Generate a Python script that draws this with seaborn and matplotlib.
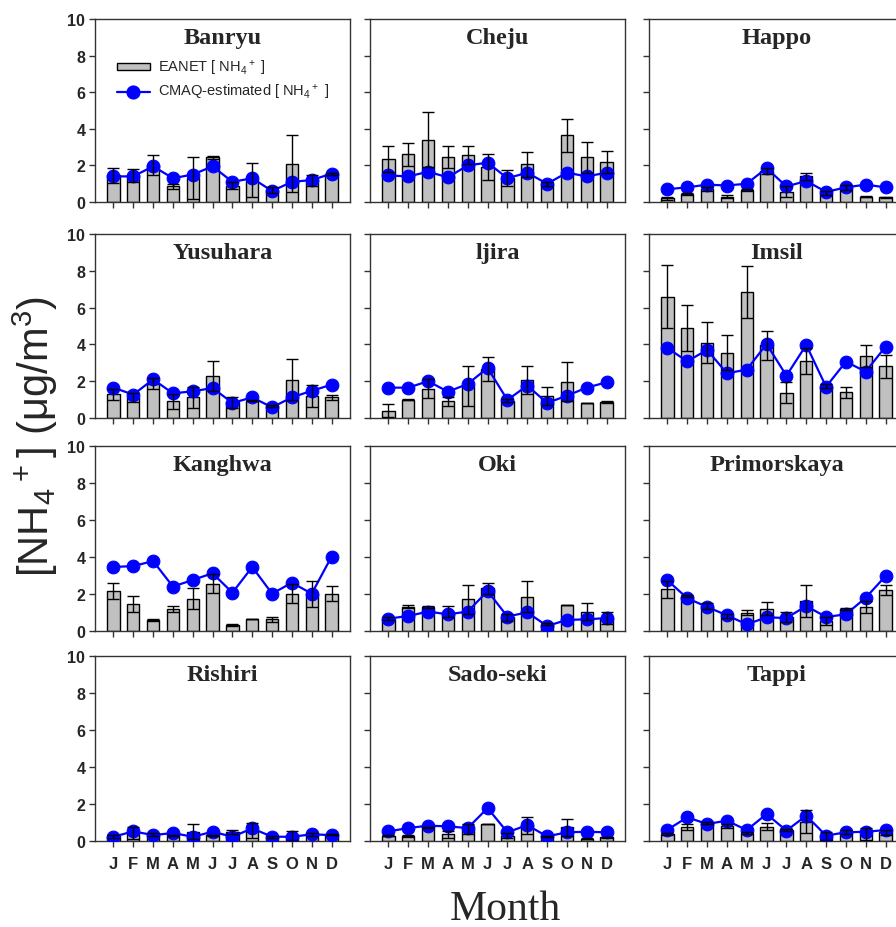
import numpy as np
import pandas as pd
import matplotlib
matplotlib.use("Agg")
import matplotlib.pyplot as plt
import seaborn as sns
from matplotlib.lines import Line2D
from matplotlib.patches import Patch

sns.set_style("ticks")
plt.rcParams["font.family"] = ["Liberation Sans", "DejaVu Sans"]
plt.rcParams["mathtext.default"] = "regular"

# Data
months = ["J", "F", "M", "A", "M", "J", "J", "A", "S", "O", "N", "D"]
sites = ["Banryu", "Cheju", "Happo", "Yusuhara", "Ijira", "Imsil",
         "Kanghwa", "Oki", "Primorskaya", "Rishiri", "Sado-seki", "Tappi"]
site_titles = ["Banryu", "Cheju", "Happo", "Yusuhara", "ljira", "Imsil",
               "Kanghwa", "Oki", "Primorskaya", "Rishiri", "Sado-seki", "Tappi"]

banryu_eanet = [1.45, 1.45, 2.0, 0.85, 1.3, 2.45, 0.9, 1.2, 0.65, 2.1, 1.2, 1.55]
banryu_err = [0.4, 0.35, 0.55, 0.15, 1.15, 0.08, 0.2, 0.95, 0.15, 1.55, 0.3, 0.05]
banryu_cmaq = [1.4, 1.4, 1.95, 1.3, 1.5, 1.95, 1.1, 1.3, 0.6, 1.1, 1.2, 1.55]

cheju_eanet = [2.35, 2.6, 3.4, 2.45, 2.55, 1.9, 1.3, 2.05, 1.0, 3.65, 2.45, 2.2]
cheju_err = [0.7, 0.65, 1.5, 0.6, 0.5, 0.7, 0.45, 0.7, 0.1, 0.9, 0.85, 0.6]
cheju_cmaq = [1.45, 1.4, 1.65, 1.35, 2.0, 2.15, 1.3, 1.6, 1.0, 1.6, 1.4, 1.6]

happo_eanet = [0.2, 0.45, 0.7, 0.3, 0.65, 1.7, 0.55, 1.4, 0.5, 0.8, 0.3, 0.25]
happo_err = [0.1, 0.05, 0.1, 0.1, 0.05, 0.15, 0.3, 0.2, 0.1, 0.15, 0.05, 0.05]
happo_cmaq = [0.7, 0.8, 0.95, 0.9, 1.0, 1.85, 0.85, 1.15, 0.55, 0.8, 0.95, 0.8]

yusuhara_eanet = [1.3, 1.12, 1.85, 0.9, 1.12, 2.27, 0.85, 0.95, 0.65, 2.08, 1.18, 1.12]
yusuhara_err = [0.3, 0.25, 0.3, 0.42, 0.55, 0.82, 0.3, 0.05, 0.05, 1.1, 0.6, 0.12]
yusuhara_cmaq = [1.65, 1.27, 2.1, 1.34, 1.45, 1.63, 0.82, 1.12, 0.58, 1.12, 1.48, 1.81]

ijira_eanet = [0.4, 1.0, 1.6, 0.9, 1.75, 2.65, 0.95, 2.05, 1.18, 1.97, 0.82, 0.86]
ijira_err = [0.35, 0.03, 0.5, 0.25, 1.1, 0.65, 0.1, 0.75, 0.5, 1.05, 0.02, 0.07]
ijira_cmaq = [1.65, 1.65, 2.0, 1.43, 1.85, 2.72, 0.98, 1.76, 0.82, 1.21, 1.65, 1.94]

imsil_eanet = [6.6, 4.9, 4.1, 3.55, 6.85, 3.95, 1.36, 3.1, 1.75, 1.4, 3.35, 2.8]
imsil_err = [1.73, 1.26, 1.1, 0.95, 1.4, 0.8, 0.57, 0.72, 0.1, 0.3, 0.6, 0.6]
imsil_cmaq = [3.8, 3.08, 3.7, 2.43, 2.63, 4.02, 2.3, 3.97, 1.7, 3.06, 2.52, 3.88]

kanghwa_eanet = [2.18, 1.44, 0.6, 1.2, 1.75, 2.56, 0.31, 0.63, 0.63, 2.02, 2.0, 2.02]
kanghwa_err = [0.43, 0.43, 0.05, 0.16, 0.55, 0.52, 0.05, 0.0, 0.15, 0.5, 0.7, 0.42]
kanghwa_cmaq = [3.46, 3.51, 3.78, 2.4, 2.76, 3.12, 2.07, 3.46, 2.02, 2.61, 2.02, 4.02]

oki_eanet = [0.67, 1.32, 1.3, 1.05, 1.71, 2.3, 0.74, 1.86, 0.36, 1.39, 1.05, 0.7]
oki_err = [0.1, 0.1, 0.07, 0.3, 0.8, 0.3, 0.2, 0.85, 0.05, 0.0, 0.45, 0.33]
oki_cmaq = [0.67, 0.81, 1.05, 0.9, 1.05, 2.16, 0.78, 1.01, 0.27, 0.6, 0.63, 0.7]

primorskaya_eanet = [2.25, 1.89, 1.35, 0.81, 0.99, 1.21, 0.75, 1.62, 0.54, 1.21, 1.3, 2.22]
primorskaya_err = [0.45, 0.05, 0.15, 0.1, 0.12, 0.35, 0.28, 0.87, 0.2, 0.05, 0.3, 0.25]
primorskaya_cmaq = [2.74, 1.77, 1.3, 0.85, 0.36, 0.74, 0.7, 1.35, 0.76, 0.9, 1.8, 2.97]

rishiri_eanet = [0.25, 0.45, 0.35, 0.3, 0.5, 0.3, 0.5, 0.55, 0.2, 0.3, 0.35, 0.35]
rishiri_err = [0.1, 0.33, 0.1, 0.05, 0.4, 0.05, 0.1, 0.4, 0.05, 0.25, 0.1, 0.05]
rishiri_cmaq = [0.23, 0.52, 0.32, 0.43, 0.23, 0.5, 0.23, 0.68, 0.23, 0.23, 0.36, 0.32]

sadoseki_eanet = [0.29, 0.25, 0.74, 0.36, 0.65, 0.92, 0.29, 0.85, 0.25, 0.74, 0.12, 0.2]
sadoseki_err = [0.03, 0.05, 0.03, 0.2, 0.28, 0.0, 0.15, 0.45, 0.03, 0.45, 0.02, 0.02]
sadoseki_cmaq = [0.52, 0.7, 0.83, 0.79, 0.7, 1.78, 0.47, 0.86, 0.25, 0.47, 0.5, 0.47]

tappi_eanet = [0.38, 0.77, 0.97, 0.81, 0.43, 0.77, 0.61, 1.04, 0.29, 0.47, 0.38, 0.47]
tappi_err = [0.03, 0.17, 0.05, 0.1, 0.05, 0.2, 0.05, 0.63, 0.22, 0.1, 0.3, 0.15]
tappi_cmaq = [0.61, 1.28, 0.92, 1.1, 0.59, 1.46, 0.56, 1.37, 0.29, 0.47, 0.5, 0.59]

eanet_all = [banryu_eanet, cheju_eanet, happo_eanet, yusuhara_eanet, ijira_eanet, imsil_eanet,
             kanghwa_eanet, oki_eanet, primorskaya_eanet, rishiri_eanet, sadoseki_eanet, tappi_eanet]
err_all = [banryu_err, cheju_err, happo_err, yusuhara_err, ijira_err, imsil_err,
           kanghwa_err, oki_err, primorskaya_err, rishiri_err, sadoseki_err, tappi_err]
cmaq_all = [banryu_cmaq, cheju_cmaq, happo_cmaq, yusuhara_cmaq, ijira_cmaq, imsil_cmaq,
            kanghwa_cmaq, oki_cmaq, primorskaya_cmaq, rishiri_cmaq, sadoseki_cmaq, tappi_cmaq]

# long table
rows = []
for s, e, er, c in zip(sites, eanet_all, err_all, cmaq_all):
    for m in range(12):
        rows.append({"site": s, "month": m, "eanet": e[m], "err": er[m], "cmaq": c[m]})
df = pd.DataFrame(rows)

# layout in pixels (figure is 896 x 928)
W, H = 896, 928
row_spans = [(20, 203), (235, 419), (447, 632), (657, 842)]
col_left = [95, 370, 649]
ax_w = 255

fig = plt.figure(figsize=(W / 100, H / 100), dpi=100)
bar_color = "#c0c0c0"
mk = 9.2

for i, site in enumerate(sites):
    r, c = divmod(i, 3)
    top, bot = row_spans[r]
    ax = fig.add_axes([col_left[c] / W, 1 - bot / H, ax_w / W, (bot - top) / H])
    d = df[df["site"] == site]

    sns.barplot(data=d, x="month", y="eanet", color=bar_color, saturation=1,
                edgecolor="black", linewidth=1, width=0.62, errorbar=None,
                ax=ax, zorder=2)
    sns.lineplot(data=d, x="month", y="cmaq", color="blue", marker="o",
                 markersize=mk, markeredgecolor="blue", linewidth=1.6,
                 ax=ax, zorder=3, legend=False)
    ax.errorbar(d["month"], d["eanet"], yerr=d["err"], fmt="none", ecolor="black",
                elinewidth=1, capsize=4.5, capthick=1, zorder=4)

    ax.set_xlim(-0.93, 11.93)
    ax.set_ylim(0, 10)
    ax.set_xlabel("")
    ax.set_ylabel("")
    ax.set_xticks(range(12))
    ax.set_yticks(range(0, 11, 2))
    if c == 0:
        ax.set_yticklabels([str(v) for v in range(0, 11, 2)], fontweight="bold", fontsize=11.5)
    else:
        ax.set_yticklabels([])
    if r == 3:
        ax.set_xticklabels(months, fontweight="bold", fontsize=12)
    else:
        ax.set_xticklabels([])
    ax.tick_params(direction="out", length=4, width=1, color="#333333", pad=3)
    ax.tick_params(axis="x", pad=7)
    for sp in ax.spines.values():
        sp.set_color("#333333")
        sp.set_linewidth(1)
        sp.set_visible(True)

    ax.text(0.5, 0.9, site_titles[i], transform=ax.transAxes, ha="center", va="center",
            fontsize=17.5, fontweight="bold", family=["Liberation Serif", "DejaVu Serif"])

    if i == 0:
        handles = [Patch(facecolor=bar_color, edgecolor="black", linewidth=1),
                   Line2D([], [], color="blue", marker="o", markersize=mk, linewidth=1.6)]
        labels = [r"EANET [ NH$_4$$^+$ ]", r"CMAQ-estimated [ NH$_4$$^+$ ]"]
        ax.legend(handles, labels, loc="center left", bbox_to_anchor=(0.086, 0.667),
                  frameon=False, fontsize=10.5, handlelength=2.25, handleheight=0.4,
                  labelspacing=0.35, borderaxespad=0, borderpad=0, handletextpad=0.55)

fig.text(35 / W, 1 - 437 / H, "[NH$_4$$^+$] (μg/m$^3$)", rotation=90, ha="center",
         va="center", fontsize=30)
fig.text(505 / W, 1 - 910 / H, "Month", ha="center", va="center", fontsize=30,
         family=["Liberation Serif", "DejaVu Serif"])

fig.savefig("out.png", dpi=100)
